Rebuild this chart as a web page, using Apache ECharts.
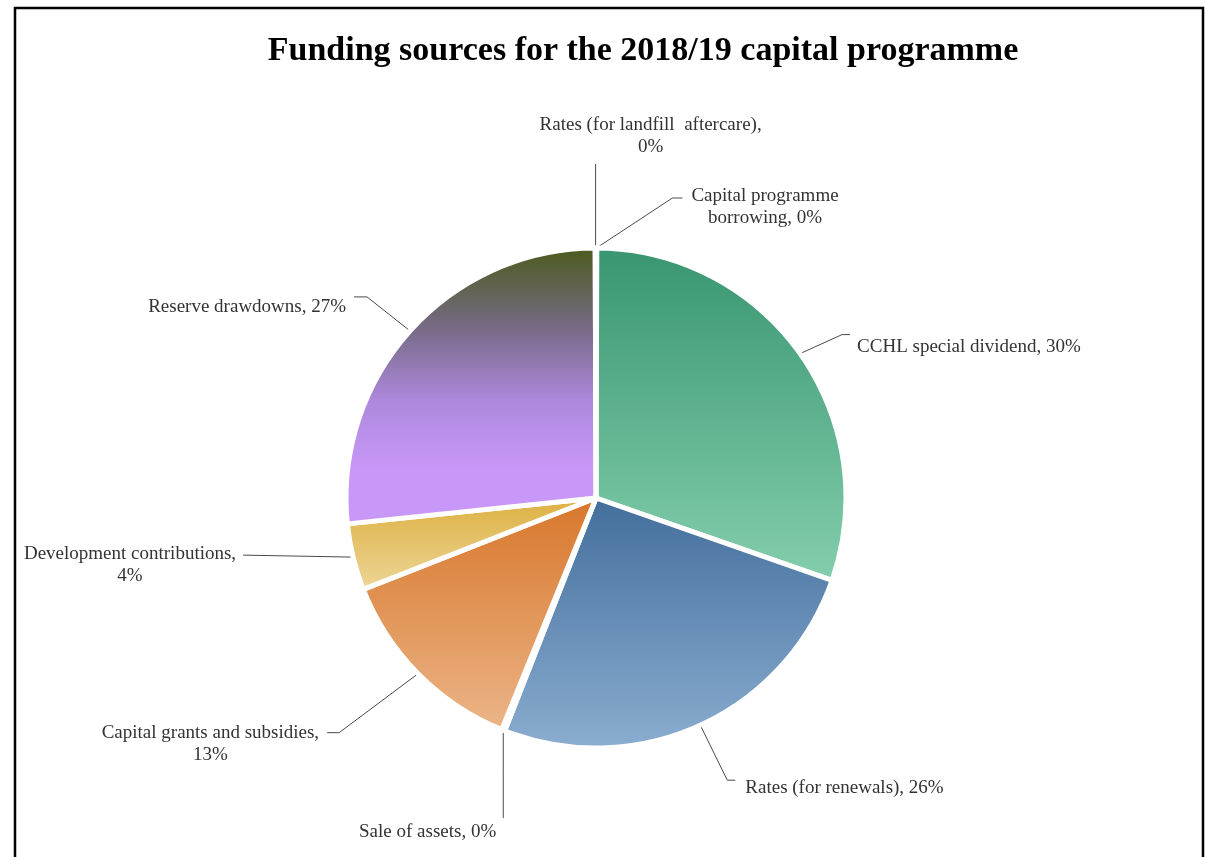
<!DOCTYPE html>
<html>
<head>
<meta charset="utf-8">
<script src="https://cdn.jsdelivr.net/npm/echarts@6/dist/echarts.min.js"></script>
<style>html,body{margin:0;padding:0;background:#fff}#c{width:1205px;height:857px}</style>
</head>
<body>
<div id="c"></div>
<script>
// ---- data ----
const titleText = 'Funding sources for the 2018/19 capital programme';
const categories = [
  'Capital programme borrowing',
  'CCHL special dividend',
  'Rates (for renewals)',
  'Sale of assets',
  'Capital grants and subsidies',
  'Development contributions',
  'Reserve drawdowns',
  'Rates (for landfill  aftercare)'
];
const values = [0.05, 30.3, 25.6, 0.2, 12.9, 4.3, 26.6, 0.05];
// how each label wraps: number = words on first line, 'pct' = percent on its own line, null = single line
const labelBreaks = [2, null, null, null, 'pct', 'pct', null, 'pct'];

// ---- styles ----
const sliceStops = [
  [['#3f6f9f', 0], ['#8aaed2', 1]],
  [['#389570', 0], ['#84cead', 1]],
  [['#426e9b', 0], ['#8badd0', 1]],
  [['#d8762a', 0], ['#ebb588', 1]],
  [['#d8762a', 0], ['#ebb588', 1]],
  [['#dcb040', 0], ['#edd698', 1]],
  [['#4b5a1a', 0], ['#786b88', 0.3], ['#ad88dc', 0.55], ['#c898f8', 0.8], ['#c898f8', 1]],
  [['#4b5a1a', 0], ['#c898f8', 1]]
];
// label line geometry, relative to the line's start point on the slice edge
const LABEL_LAYOUT = [
  {bend: [76, -50], end: [86, -50], text: [9, 9], align: 'left'},
  {bend: [42, -19], end: [50, -19], text: [7, 12], align: 'left'},
  {bend: [27, 55], end: [35, 55], text: [10, 8], align: 'left'},
  {bend: [0, 44], end: [0, 88], text: [-7, 14], align: 'right'},
  {bend: [-79, 59], end: [-91, 59], text: [-8, 11], align: 'right'},
  {bend: [-55, -1], end: [-110, -2], text: [-7, 10], align: 'right'},
  {bend: [-43, -34], end: [-56, -34], text: [-8, 10], align: 'right'},
  {bend: [0, -42], end: [0, -84], text: [55, -28], align: 'center'}
];

const FONT = 'Liberation Serif';
const chart = echarts.init(document.getElementById('c'));

function grad(stops) {
  return {
    type: 'linear', x: 0, y: 0, x2: 0, y2: 1,
    colorStops: stops.map(s => ({offset: s[1], color: s[0]}))
  };
}

const data = categories.map((name, i) => ({
  name: name,
  value: values[i],
  itemStyle: {color: grad(sliceStops[i])}
}));

function fmt(p) {
  const br = labelBreaks[p.dataIndex];
  const pct = p.percent + '%';
  let lines;
  if (br === 'pct') {
    lines = [p.name + ',', pct];
  } else if (typeof br === 'number') {
    const words = (p.name + ', ' + pct).split(' ');
    lines = [words.slice(0, br).join(' '), words.slice(br).join(' ')];
  } else {
    lines = [p.name + ', ' + pct];
  }
  return lines.map(l => '{c|' + l + '}').join('\n');
}

chart.setOption({
  animation: false,
  backgroundColor: '#fff',
  title: {
    text: titleText,
    left: 638,
    textAlign: 'center',
    top: 29,
    textStyle: {fontFamily: FONT, fontSize: 34, fontWeight: 'bold', color: '#000'}
  },
  graphic: [{
    type: 'rect',
    silent: true,
    z: -10,
    shape: {x: 15, y: 8, width: 1188, height: 880},
    style: {fill: 'none', stroke: '#000', lineWidth: 2.5}
  }],
  series: [{
    type: 'pie',
    center: [596, 498],
    radius: 250,
    startAngle: 90,
    clockwise: true,
    percentPrecision: 0,
    avoidLabelOverlap: false,
    itemStyle: {borderColor: '#fff', borderWidth: 5},
    label: {
      show: true,
      position: 'outside',
      formatter: fmt,
      fontFamily: FONT,
      fontSize: 19,
      lineHeight: 22,
      color: '#333333',
      rich: {
        c: {align: 'center', fontFamily: FONT, fontSize: 19, lineHeight: 22, color: '#333333'}
      }
    },
    labelLine: {show: true, length: 30, length2: 10, lineStyle: {color: '#4a4a4a', width: 1}},
    labelLayout: function (p) {
      const L = LABEL_LAYOUT[p.dataIndex];
      const pts = p.labelLinePoints;
      if (!L || !pts) return {};
      const s = pts[0];
      const b = [s[0] + L.bend[0], s[1] + L.bend[1]];
      const e = [s[0] + L.end[0], s[1] + L.end[1]];
      return {
        x: e[0] + L.text[0],
        y: e[1] + L.text[1],
        align: L.align,
        verticalAlign: 'middle',
        labelLinePoints: [s, b, e]
      };
    },
    emphasis: {disabled: true},
    data: data
  }]
});
</script>
</body>
</html>
